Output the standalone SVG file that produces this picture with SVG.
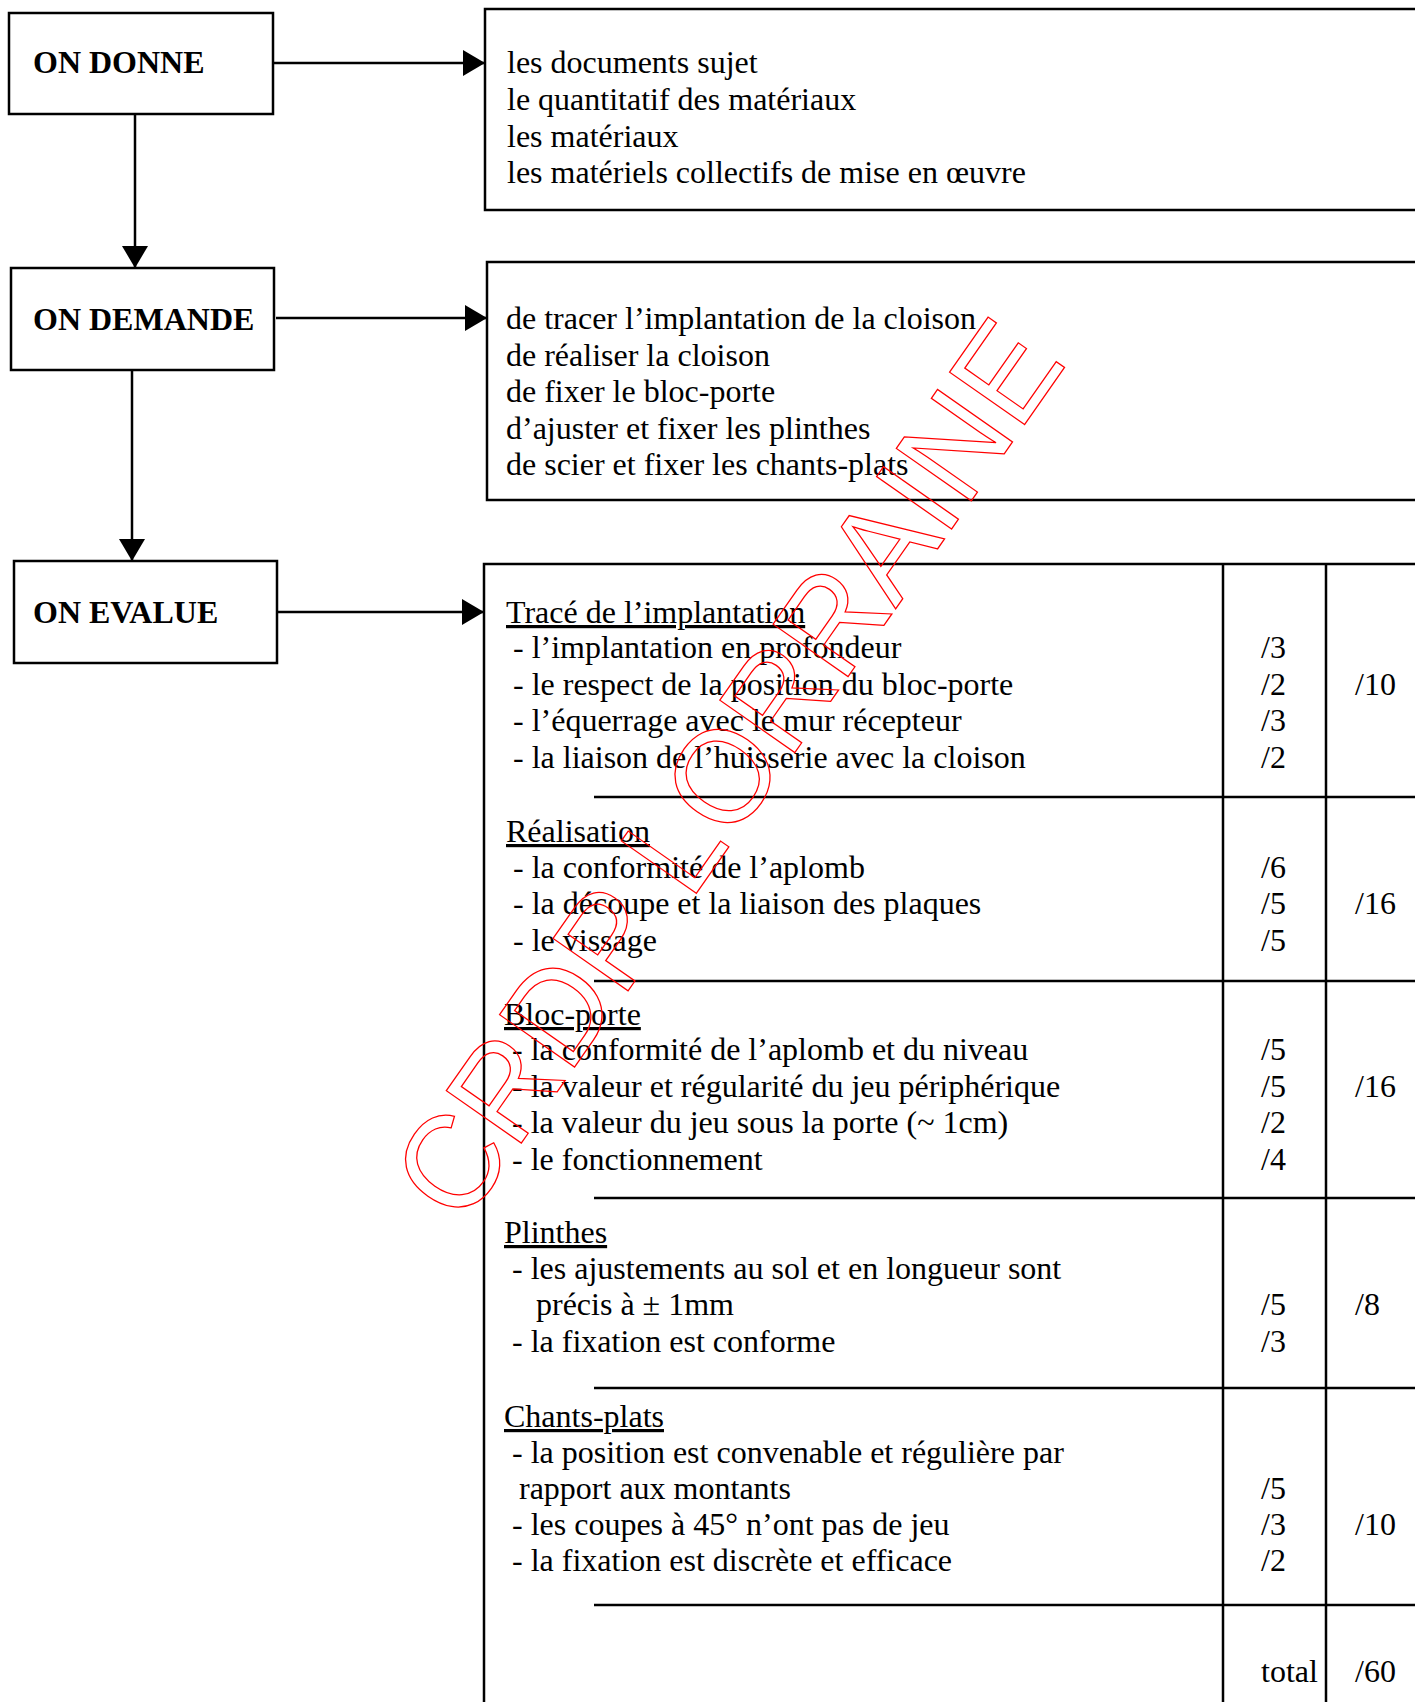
<svg xmlns="http://www.w3.org/2000/svg" width="1415" height="1702" viewBox="0 0 1415 1702">
<style>
.box{fill:none;stroke:#000;stroke-width:2.5}
.ln{stroke:#000;stroke-width:2.5;fill:none}
.sep{stroke:#000;stroke-width:2.5}
.t{font-family:"Liberation Serif","Times New Roman",serif;font-size:32px;fill:#000}
.h{font-family:"Liberation Serif","Times New Roman",serif;font-size:32px;font-weight:bold;fill:#000}
.u{text-decoration:underline}
.wm{font-family:"Liberation Sans",Arial,sans-serif;font-size:133px;fill:none;stroke:#ff0000;stroke-width:1.3}
</style>
<defs>
<marker id="ah" markerUnits="userSpaceOnUse" markerWidth="22" markerHeight="26" refX="22" refY="13" orient="auto">
<path d="M0,0 L22,13 L0,26 Z" fill="#000"/>
</marker>
</defs>
<rect width="1415" height="1702" fill="#fff"/>

<g id="connectors">
<line class="ln" x1="273" y1="63" x2="485" y2="63" marker-end="url(#ah)"/>
<line class="ln" x1="276" y1="318" x2="487" y2="318" marker-end="url(#ah)"/>
<line class="ln" x1="277" y1="612" x2="484" y2="612" marker-end="url(#ah)"/>
<line class="ln" x1="135" y1="114" x2="135" y2="268" marker-end="url(#ah)"/>
<line class="ln" x1="132" y1="370" x2="132" y2="561" marker-end="url(#ah)"/>
</g>

<g id="node-on-donne">
<rect class="box" x="9" y="13" width="264" height="101"/>
<text class="h" x="33" y="73">ON DONNE</text>
</g>
<g id="node-on-demande">
<rect class="box" x="11" y="268" width="263" height="102"/>
<text class="h" x="33" y="330">ON DEMANDE</text>
</g>
<g id="node-on-evalue">
<rect class="box" x="14" y="561" width="263" height="102"/>
<text class="h" x="33" y="623">ON EVALUE</text>
</g>

<g id="node-given">
<path class="ln" d="M1417,9 H485 V210 H1417"/>
<text class="t" x="507" y="73">les documents sujet</text>
<text class="t" x="507" y="110">le quantitatif des matériaux</text>
<text class="t" x="507" y="147">les matériaux</text>
<text class="t" x="507" y="183">les matériels collectifs de mise en œuvre</text>
</g>

<g id="node-asked">
<path class="ln" d="M1417,262 H487 V500 H1417"/>
<text class="t" x="506" y="329">de tracer l’implantation de la cloison</text>
<text class="t" x="506" y="366">de réaliser la cloison</text>
<text class="t" x="506" y="402">de fixer le bloc-porte</text>
<text class="t" x="506" y="439">d’ajuster et fixer les plinthes</text>
<text class="t" x="506" y="475">de scier et fixer les chants-plats</text>
</g>

<g id="node-evaluation">
<path class="ln" d="M1417,564 H484 V1704"/>
<line class="sep" x1="1223" y1="564" x2="1223" y2="1704"/>
<line class="sep" x1="1326" y1="564" x2="1326" y2="1704"/>
<line class="sep" x1="594" y1="797" x2="1417" y2="797"/>
<line class="sep" x1="594" y1="981" x2="1417" y2="981"/>
<line class="sep" x1="594" y1="1198" x2="1417" y2="1198"/>
<line class="sep" x1="594" y1="1388" x2="1417" y2="1388"/>
<line class="sep" x1="594" y1="1605" x2="1417" y2="1605"/>

<text class="t u" x="506" y="623">Tracé de l’implantation</text>
<text class="t" x="513" y="658">- l’implantation en profondeur</text>
<text class="t" x="513" y="695">- le respect de la position du bloc-porte</text>
<text class="t" x="513" y="731">- l’équerrage avec le mur récepteur</text>
<text class="t" x="513" y="768">- la liaison de l’huisserie avec la cloison</text>
<text class="t" x="1261" y="658">/3</text>
<text class="t" x="1261" y="695">/2</text>
<text class="t" x="1261" y="731">/3</text>
<text class="t" x="1261" y="768">/2</text>
<text class="t" x="1355" y="695">/10</text>

<text class="t u" x="506" y="842">Réalisation</text>
<text class="t" x="513" y="878">- la conformité de l’aplomb</text>
<text class="t" x="513" y="914">- la découpe et la liaison des plaques</text>
<text class="t" x="513" y="951">- le vissage</text>
<text class="t" x="1261" y="878">/6</text>
<text class="t" x="1261" y="914">/5</text>
<text class="t" x="1261" y="951">/5</text>
<text class="t" x="1355" y="914">/16</text>

<text class="t u" x="504" y="1025">Bloc-porte</text>
<text class="t" x="512" y="1060">- la conformité de l’aplomb et du niveau</text>
<text class="t" x="512" y="1097">- la valeur et régularité du jeu périphérique</text>
<text class="t" x="512" y="1133">- la valeur du jeu sous la porte (~ 1cm)</text>
<text class="t" x="512" y="1170">- le fonctionnement</text>
<text class="t" x="1261" y="1060">/5</text>
<text class="t" x="1261" y="1097">/5</text>
<text class="t" x="1261" y="1133">/2</text>
<text class="t" x="1261" y="1170">/4</text>
<text class="t" x="1355" y="1097">/16</text>

<text class="t u" x="504" y="1243">Plinthes</text>
<text class="t" x="512" y="1279">- les ajustements au sol et en longueur sont</text>
<text class="t" x="536" y="1315">précis à ± 1mm</text>
<text class="t" x="512" y="1352">- la fixation est conforme</text>
<text class="t" x="1261" y="1315">/5</text>
<text class="t" x="1261" y="1352">/3</text>
<text class="t" x="1355" y="1315">/8</text>

<text class="t u" x="504" y="1427">Chants-plats</text>
<text class="t" x="512" y="1463">- la position est convenable et régulière par</text>
<text class="t" x="519" y="1499">rapport aux montants</text>
<text class="t" x="512" y="1535">- les coupes à 45° n’ont pas de jeu</text>
<text class="t" x="512" y="1571">- la fixation est discrète et efficace</text>
<text class="t" x="1261" y="1499">/5</text>
<text class="t" x="1261" y="1535">/3</text>
<text class="t" x="1261" y="1571">/2</text>
<text class="t" x="1355" y="1535">/10</text>

<text class="t" x="1261" y="1682">total</text>
<text class="t" x="1355" y="1682">/60</text>
</g>

<text class="wm" transform="translate(462,1228) rotate(-55)" textLength="1056" lengthAdjust="spacingAndGlyphs">CRDP LORRAINE</text>
</svg>
